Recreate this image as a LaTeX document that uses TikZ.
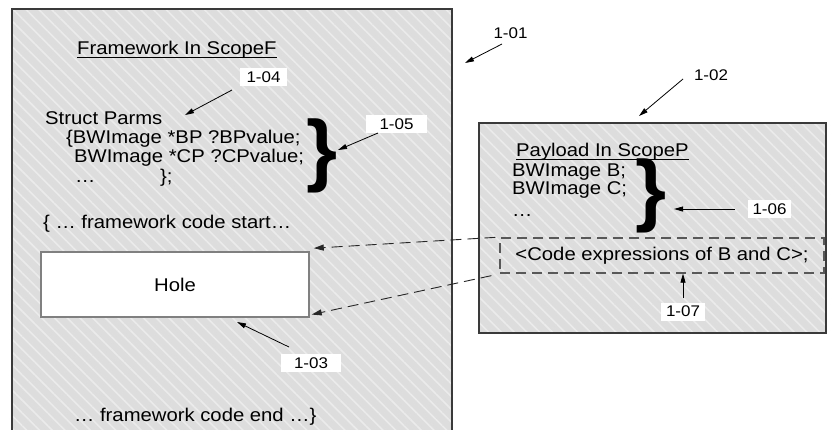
\documentclass[tikz,border=0pt]{standalone}
\usepackage{fontspec}
\setmainfont{Liberation Sans}[FakeStretch=1.1]
\newfontfamily\bracefont{Liberation Sans}
\usetikzlibrary{patterns.meta,arrows.meta}
\definecolor{hatchbg}{HTML}{DDDDDD}
\definecolor{hatchln}{HTML}{EBEBEB}
\definecolor{boxline}{HTML}{3A3A3A}
\begin{document}
\begin{tikzpicture}[x=1bp,y=-1bp,
  txt/.style={inner sep=0pt, anchor=base west, font=\fontsize{18.5}{21}\selectfont},
  lbl/.style={fill=white, inner sep=0pt, minimum height=18bp, font=\fontsize{15.5}{18}\selectfont},
  hatch/.style={preaction={fill=hatchbg}, pattern={Lines[angle=-45,distance=9bp,line width=1.6bp]}, pattern color=hatchln},
  ptr/.style={draw=black, line width=0.8bp, -{Triangle[length=9bp,width=5bp]}},
  dptr/.style={draw=black!85, line width=0.9bp, dash pattern=on 11bp off 6bp, -{Triangle[length=10bp,width=6bp]}},
  bigbrace/.style={inner sep=0pt, font=\fontsize{80}{80}\bracefont\bfseries}
]
\clip (0,0) rectangle (827,429);
\fill[white] (0,0) rectangle (827,429);
% framework box
\path[hatch] (12,9) rectangle (452,440);
\draw[boxline, line width=1.5bp] (12,440) -- (12,9) -- (452,9) -- (452,440);
% payload box
\path[hatch, draw=boxline, line width=1.5bp] (479,123) rectangle (826,333);
% hole
\node[draw=gray, fill=white, line width=1.5bp, minimum width=268bp, minimum height=65bp, inner sep=0pt, font=\fontsize{18.5}{21}\selectfont] (hole) at (175,284.5) {Hole};
% code expressions box
\node[draw=boxline!85, dash pattern=on 10bp off 6bp, line width=1.3bp, minimum width=324bp, minimum height=35bp, inner sep=0pt, font=\fontsize{18.5}{21}\selectfont] (code) at (662,255.5) {<Code expressions of B and C>;};
% texts
\node[txt] (fw) at (77,54) {Framework In ScopeF};
\draw[line width=1bp] ([yshift=-3.5bp]fw.base west) -- ([yshift=-3.5bp]fw.base east);
\node[txt] (sp) at (45,124) {Struct Parms};
\node[txt] (bp) at (66,143) {\{BWImage *BP ?BPvalue;};
\node[txt] (cp) at (74,162) {BWImage *CP ?CPvalue;};
\node[txt] (dots1) at (75,182) {…};
\node[txt] (close) at (160,182) {\};};
\node[txt] (start) at (43,228) {\{ … framework code start…};
\node[txt] (end) at (74,421) {… framework code end …\}};
\node[txt] (pl) at (516,156) {Payload In ScopeP};
\draw[line width=1bp] ([yshift=-3.5bp]pl.base west) -- ([yshift=-3.5bp]pl.base east);
\node[txt] (bb) at (512,176) {BWImage B;};
\node[txt] (bc) at (512,194) {BWImage C;};
\node[txt] (dots2) at (512,216) {…};
% braces
\node[bigbrace] (br1) at (322,156) {\}};
\node[bigbrace] (br2) at (651,196) {\}};
% labels
\node[lbl, minimum width=47bp] (l04) at (263.5,77) {1-04};
\node[lbl, minimum width=61bp] (l05) at (396.5,124) {1-05};
\node[lbl, minimum width=43bp] (l06) at (769.5,209) {1-06};
\node[lbl, minimum width=44bp] (l07) at (683,311.5) {1-07};
\node[lbl, minimum width=60bp] (l03) at (311,363) {1-03};
\node[lbl, fill=none] (l01) at (510.5,33) {1-01};
\node[lbl, fill=none] (l02) at (711,75) {1-02};
% arrow endpoints
\coordinate (a01s) at (502,44);  \coordinate (a01e) at (465,63);
\coordinate (a02s) at (683,79);  \coordinate (a02e) at (639,116);
\coordinate (a04s) at (232,90);  \coordinate (a04e) at (185,115);
\coordinate (a05s) at (378,133); \coordinate (a05e) at (338,150);
\coordinate (a06s) at (735,209); \coordinate (a06e) at (674,209);
\coordinate (a03s) at (289,347); \coordinate (a03e) at (237,322);
\draw[ptr] (a01s) -- (a01e);
\draw[ptr] (a02s) -- (a02e);
\draw[ptr] (a04s) -- (a04e);
\draw[ptr] (a05s) -- (a05e);
\draw[ptr] (a06s) -- (a06e);
\draw[ptr] (a03s) -- (a03e);
\draw[ptr] ([yshift=4bp]l07.north) -- (l07.north |- code.south);
% dashed arrows
\draw[dptr, shorten >=1bp] ([xshift=-4bp]code.north west) -- ([xshift=3bp,yshift=3bp]hole.north east);
\draw[dptr, shorten >=1bp] ([xshift=-8bp,yshift=-2bp]code.south west) -- ([xshift=1bp,yshift=3bp]hole.south east);
\end{tikzpicture}
\end{document}
